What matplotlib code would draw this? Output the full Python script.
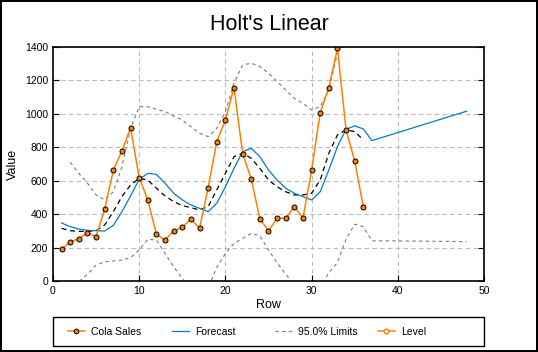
import matplotlib.pyplot as plt
from matplotlib.lines import Line2D
from matplotlib.patches import Rectangle

plt.rcParams['font.family'] = ['Liberation Sans', 'DejaVu Sans']

# Cola sales data, rows 1..36
rows = list(range(1, 37))
sales = [191, 233, 253, 289, 265, 431, 662, 780, 916, 618, 485, 279,
         245, 299, 321, 371, 315, 558, 834, 963, 1157, 762, 612, 371,
         301, 375, 375, 445, 377, 662, 1007, 1157, 1392, 904, 718, 445]

# smoothed level (black dashed)
level = [315, 301, 297, 297, 301, 335, 415, 505, 574, 614, 604, 555,
         509, 475, 451, 439, 425, 445, 545, 644, 744, 764, 734, 674,
         604, 564, 534, 515, 515, 525, 604, 764, 874, 904, 894, 844]

# forecast rows 1..48
frows = list(range(1, 49))
forecast = [347, 325, 311, 303, 301, 299, 333, 415, 509, 608, 644, 638,
            585, 525, 485, 455, 435, 415, 465, 564, 674, 774, 794, 744,
            664, 604, 555, 525, 505, 485, 534, 664, 804, 908, 928, 910,
            840, 856, 872, 888, 904, 920, 936, 952, 968, 984, 1000, 1016]

# 95% limits rows 2..48
lrows = list(range(2, 49))
upper = [710, 644, 585, 515, 485, 534, 684, 913, 1043, 1043, 1027, 1013,
         987, 963, 923, 884, 864, 913, 1013, 1183, 1293, 1303, 1283, 1243,
         1193, 1143, 1093, 1063, 1023, 1043, 1143, 1363, 1460, 1500, 1490,
         1440, 1470, 1500, 1530, 1560, 1590, 1620, 1650, 1680, 1710, 1740, 1770]
lower = [-60, -5, 40, 95, 115, 120, 125, 140, 185, 250, 245, 165,
         85, 15, -45, -70, -40, 80, 165, 225, 255, 285, 270, 185,
         110, 40, -20, -50, -60, -50, 50, 110, 250, 340, 325,
         240, 240, 240, 240, 239, 239, 238, 238, 237, 237, 236, 235]

orange = '#FF8000'
blue = '#0080C0'
gray = '#787878'

fig = plt.figure(figsize=(5.38, 3.52), dpi=100, linewidth=1.5, edgecolor='black')
ax = fig.add_axes([0.0985, 0.2017, 0.8011, 0.6648])

ax.plot(lrows, upper, color=gray, lw=0.8, ls=(0, (3, 3)))
ax.plot(lrows, lower, color=gray, lw=0.8, ls=(0, (3, 3)))
ax.plot(rows, level, color='black', lw=0.9, ls=(0, (4, 3)))
ax.plot(frows, forecast, color=blue, lw=0.9)
ax.plot(rows, sales, color=orange, lw=1.1, marker='o', markersize=3.6,
        markerfacecolor=orange, markeredgecolor='black', markeredgewidth=0.7)

ax.set_xlim(0, 50)
ax.set_ylim(0, 1400)
ax.set_xticks(range(0, 51, 10))
ax.set_yticks(range(0, 1401, 200))
ax.grid(True, color='#bcbcbc', ls=(0, (4, 3)), lw=0.8)
ax.tick_params(direction='in', length=4, labelsize=7.5, right=True, top=False)
for s in ax.spines.values():
    s.set_linewidth(1.2)

ax.set_xlabel('Row', fontsize=9, labelpad=2)
ax.set_ylabel('Value', fontsize=9, labelpad=4)
fig.text(0.5, 0.93, "Holt's Linear", ha='center', va='center', fontsize=15.5)

# legend box below the axes
fig.patches.append(Rectangle((0.0985, 0.017), 0.8011, 0.0824, transform=fig.transFigure,
                             fill=False, edgecolor='black', lw=1.0))
handles = [
    Line2D([], [], color=orange, lw=1.1, marker='o', markersize=3.4,
           markerfacecolor=orange, markeredgecolor='black', markeredgewidth=0.7),
    Line2D([], [], color=blue, lw=0.9),
    Line2D([], [], color=gray, lw=0.8, ls=(0, (3, 3))),
    Line2D([], [], color=orange, lw=1.1, marker='o', markersize=3.4,
           markerfacecolor='white', markeredgecolor=orange),
]
labels = ['Cola Sales', 'Forecast', '95.0% Limits', 'Level']
xpos = [68, 172, 275, 378]
for h, lab, x in zip(handles, labels, xpos):
    fig.legend([h], [lab], loc='center left', bbox_to_anchor=(x / 538, 0.058),
               fontsize=7.5, frameon=False, handlelength=1.6, handletextpad=0.6,
               numpoints=1, borderpad=0, borderaxespad=0)

fig.savefig('out.png', dpi=100, edgecolor=fig.get_edgecolor())
